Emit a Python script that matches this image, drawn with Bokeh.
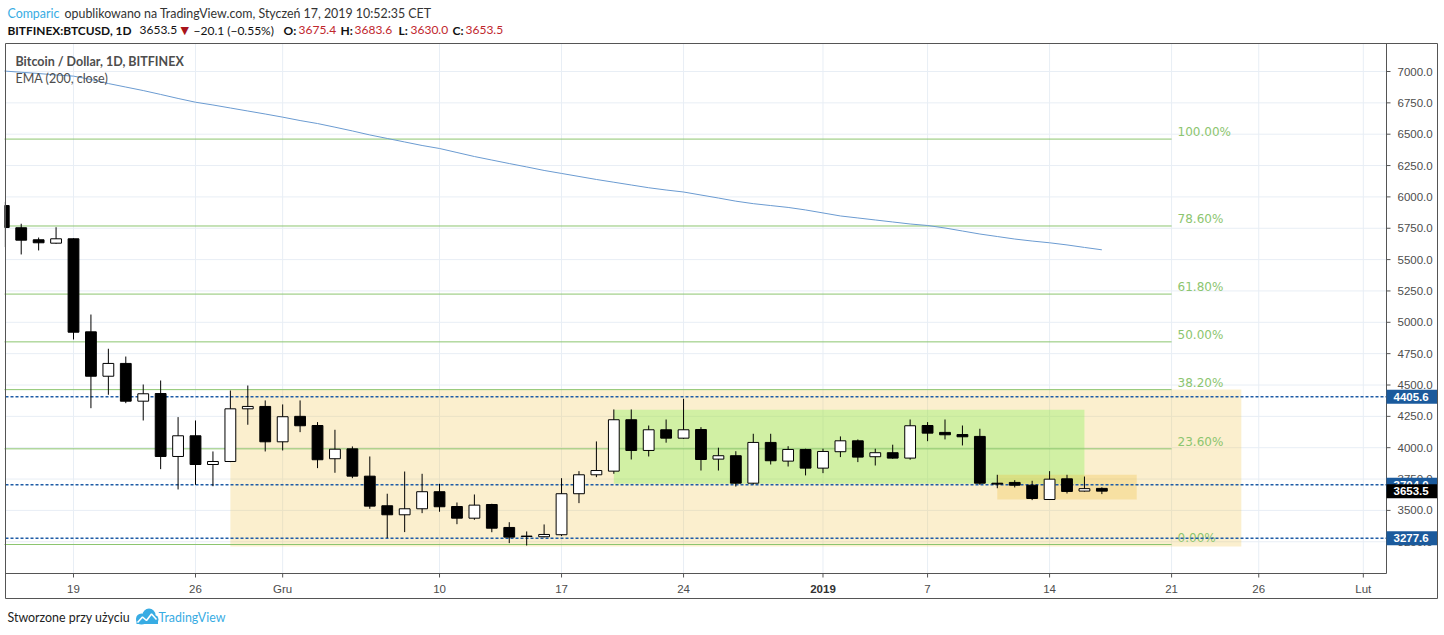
import numpy as np
import pandas as pd
from bokeh.plotting import figure
from bokeh.models import ColumnDataSource, Range1d, Label
from bokeh.core.properties import value
from bokeh.embed import file_html
from bokeh.resources import INLINE

# ---------------- data ----------------
dates = ["2018-11-15", "2018-11-16", "2018-11-17", "2018-11-18", "2018-11-19", "2018-11-20",
         "2018-11-21", "2018-11-22", "2018-11-23", "2018-11-24", "2018-11-25", "2018-11-26",
         "2018-11-27", "2018-11-28", "2018-11-29", "2018-11-30", "2018-12-01", "2018-12-02",
         "2018-12-03", "2018-12-04", "2018-12-05", "2018-12-06", "2018-12-07", "2018-12-08",
         "2018-12-09", "2018-12-10", "2018-12-11", "2018-12-12", "2018-12-13", "2018-12-14",
         "2018-12-15", "2018-12-16", "2018-12-17", "2018-12-18", "2018-12-19", "2018-12-20",
         "2018-12-21", "2018-12-22", "2018-12-23", "2018-12-24", "2018-12-25", "2018-12-26",
         "2018-12-27", "2018-12-28", "2018-12-29", "2018-12-30", "2018-12-31", "2019-01-01",
         "2019-01-02", "2019-01-03", "2019-01-04", "2019-01-05", "2019-01-06", "2019-01-07",
         "2019-01-08", "2019-01-09", "2019-01-10", "2019-01-11", "2019-01-12", "2019-01-13",
         "2019-01-14", "2019-01-15", "2019-01-16", "2019-01-17"]

opens = [5931, 5754, 5658, 5631, 5666, 4924, 4570, 4672, 4371, 4432, 3930, 4095,
         3866, 3890, 4310, 4329, 4047, 4250, 4177, 3912, 3991, 3773, 3537, 3465,
         3513, 3649, 3531, 3438, 3547, 3364, 3295, 3290, 3306, 3633, 3784, 3813,
         4223, 3978, 4143, 4076, 4145, 3909, 3936, 3717, 4042, 3893, 3986, 3837,
         3968, 4055, 3928, 3960, 3917, 4177, 4122, 4105, 4090, 3717, 3723, 3701,
         3587, 3752, 3654, 3675.4]
highs = [5960, 5786, 5676, 5758, 5670, 5062, 4789, 4727, 4504, 4536, 4244, 4217,
         3970, 4456, 4496, 4377, 4345, 4377, 4204, 4143, 4010, 3930, 3633, 3810,
         3792, 3712, 3563, 3627, 3553, 3406, 3332, 3388, 3757, 3813, 4050, 4305,
         4305, 4177, 4225, 4390, 4164, 4000, 3972, 4111, 4111, 4012, 3992, 3992,
         4090, 4066, 3992, 4024, 4225, 4204, 4225, 4177, 4151, 3784, 3741, 3736,
         3813, 3784, 3770, 3683.6]
lows = [5600, 5541, 5573, 5625, 4863, 4315, 4422, 4355, 4217, 3829, 3667, 3704,
        3693, 3885, 4183, 3970, 3978, 4124, 3837, 3800, 3757, 3513, 3280, 3327,
        3478, 3489, 3390, 3425, 3326, 3239, 3220, 3285, 3295, 3558, 3765, 3792,
        3906, 3930, 4040, 4070, 3818, 3818, 3690, 3707, 3866, 3850, 3779, 3797,
        3925, 3885, 3858, 3912, 3904, 4052, 4066, 4018, 3704, 3677, 3683, 3582,
        3587, 3635, 3650, 3630.0]
closes = [5756, 5655, 5634, 5666, 4921, 4570, 4672, 4371, 4430, 3930, 4095, 3866,
          3890, 4310, 4329, 4047, 4247, 4175, 3904, 3988, 3773, 3534, 3465, 3513,
          3649, 3529, 3438, 3542, 3358, 3287, 3292, 3308, 3633, 3784, 3818, 4223,
          3978, 4143, 4076, 4143, 3906, 3936, 3717, 4042, 3896, 3986, 3837, 3970,
          4055, 3925, 3960, 3917, 4175, 4116, 4103, 4087, 3717, 3710, 3701, 3595,
          3749, 3651, 3673.6, 3653.5]
ema200 = [7004, 6994, 6984, 6972, 6963, 6936, 6904, 6876, 6848, 6817, 6785, 6755,
          6733, 6709, 6685, 6661, 6636, 6609, 6585, 6556, 6526, 6494, 6466, 6438,
          6410, 6386, 6354, 6322, 6294, 6266, 6239, 6211, 6187, 6163, 6139, 6117,
          6095, 6073, 6055, 6039, 6015, 5991, 5966, 5946, 5931, 5916, 5896, 5872,
          5848, 5832, 5816, 5800, 5784, 5772, 5752, 5728, 5704, 5684, 5664, 5648,
          5634, 5617, 5597, 5578]

# Fibonacci retracement levels
fib_labels = ["100.00%", "78.60%", "61.80%", "50.00%", "38.20%", "23.60%", "0.00%"]
fib_prices = [6461, 5768, 5225, 4844, 4463, 3991, 3228]
fib_start = "2018-11-15"
fib_end = "2019-01-21"

# shaded zones
zone_left = ["2018-11-28", "2018-12-20", "2019-01-11"]
zone_right = ["2019-01-25", "2019-01-16", "2019-01-19"]
zone_top = [4464, 4302, 3784]
zone_bottom = [3212, 3712, 3587]
zone_color = ["#f0be3c", "#72f243", "#f0be3c"]
zone_alpha = [0.25, 0.30, 0.30]

# horizontal levels
hlines = [4405.6, 3704.0, 3277.6]
last_price = 3653.5

# axes
price_ticks = [3250, 3500, 3750, 4000, 4250, 4500, 4750, 5000, 5250, 5500, 5750,
               6000, 6250, 6500, 6750, 7000]
time_tick_dates = ["2018-11-19", "2018-11-26", "2018-12-01", "2018-12-10", "2018-12-17",
                   "2018-12-24", "2019-01-01", "2019-01-07", "2019-01-14", "2019-01-21",
                   "2019-01-26", "2019-02-01"]
time_tick_labels = ["19", "26", "Gru", "10", "17", "24", "2019", "7", "14", "21", "26", "Lut"]
time_tick_bold = [False, False, False, False, False, False, True, False, False, False, False, False]

# ---------------- helpers ----------------
base = pd.Timestamp("2018-11-19")
def day(s):
    return (pd.Timestamp(s) - base).days

PX_DAY = 17.43          # pixels per day in the reference
PX_250 = 31.35          # pixels per 250 USD in the reference
def dx(px):             # reference pixel x -> day number
    return (px - 73) / PX_DAY
def dy(py):             # reference pixel y -> price
    return 7000 - (py - 71) * 250 / PX_250

W, H = 1440, 632
PL, PR, PT, PB = 5, 1386, 43, 573   # price pane in reference pixels
OR, OB = 1437, 598                  # outer frame right / bottom

days = np.array([day(d) for d in dates], dtype=float)
o = np.array(opens, dtype=float)
c = np.array(closes, dtype=float)

# ---------------- figure ----------------
p = figure(width=W, height=H, x_range=Range1d(dx(4), dx(W)), y_range=Range1d(dy(H), dy(0)),
           x_axis_type=None, y_axis_type=None, output_backend="svg", toolbar_location=None,
           min_border_left=4, min_border_right=0, min_border_top=0, min_border_bottom=0)
p.outline_line_color = None
p.background_fill_color = "white"
p.border_fill_color = "white"

grid_col = "#e8eef5"
axis_col = "#555555"
tdays = [day(d) for d in time_tick_dates]

# grid
p.segment(x0=tdays, y0=[dy(PT)] * len(tdays), x1=tdays, y1=[dy(PB)] * len(tdays),
          line_color=grid_col, line_width=1)
p.segment(x0=[dx(PL)] * len(price_ticks), y0=price_ticks, x1=[dx(PR)] * len(price_ticks),
          y1=price_ticks, line_color=grid_col, line_width=1)

# zones
zsrc = ColumnDataSource(dict(left=[day(d) for d in zone_left], right=[day(d) for d in zone_right],
                             top=zone_top, bottom=zone_bottom, color=zone_color, alpha=zone_alpha))
p.quad(left="left", right="right", top="top", bottom="bottom", fill_color="color",
       fill_alpha="alpha", line_color=None, source=zsrc)

# fib lines and labels
nf = len(fib_prices)
fsrc = ColumnDataSource(dict(x0=[day(fib_start)] * nf, x1=[day(fib_end)] * nf,
                             y=fib_prices, label=fib_labels))
p.segment(x0="x0", y0="y", x1="x1", y1="y", line_color="#8cc56f", line_width=1, source=fsrc)
p.text(x="x1", y="y", text="label", source=fsrc, x_offset=6, text_baseline="bottom",
       text_align="left", text_font=value("DejaVu Sans"), text_font_size="12px",
       text_color="#8cc56f")

# EMA
p.line(days, ema200, line_color="#6b9bd1", line_width=1)

# dashed level lines
nh = len(hlines)
p.segment(x0=[dx(PL)] * nh, y0=hlines, x1=[dx(PR)] * nh, y1=hlines, line_color="#1f5ca6",
          line_dash="3 2", line_width=1.5)

# candles
up = c >= o
csrc = ColumnDataSource(dict(x=days, high=highs, low=lows, top=np.maximum(o, c),
                             bottom=np.minimum(o, c), fill=np.where(up, "white", "black")))
p.segment(x0="x", y0="low", x1="x", y1="high", line_color="black", line_width=1, source=csrc)
p.vbar(x="x", width=0.62, top="top", bottom="bottom", fill_color="fill", line_color="black",
       line_width=1, source=csrc)

# axes (price axis on the right, time axis below)
p.segment(x0=[dx(PR)], y0=[dy(PT)], x1=[dx(PR)], y1=[dy(PB)], line_color=axis_col, line_width=1)
p.segment(x0=[dx(PL)], y0=[dy(PB)], x1=[dx(PR)], y1=[dy(PB)], line_color=axis_col, line_width=1)
np_ = len(price_ticks)
p.segment(x0=[dx(PR)] * np_, y0=price_ticks, x1=[dx(PR + 4)] * np_, y1=price_ticks,
          line_color=axis_col, line_width=1)
p.text(x=[dx(PR + 11)] * np_, y=price_ticks, text=[f"{v:.1f}" for v in price_ticks],
       text_align="left", text_baseline="middle", text_font=value("Liberation Sans"),
       text_font_size="11.5px", text_color="#4d4d4d")
nt = len(tdays)
p.segment(x0=tdays, y0=[dy(PB)] * nt, x1=tdays, y1=[dy(PB + 4)] * nt, line_color=axis_col,
          line_width=1)
tsrc = ColumnDataSource(dict(x=tdays, y=[dy(588)] * nt, t=time_tick_labels,
                             st=["bold" if b else "normal" for b in time_tick_bold],
                             col=["#333333" if b else "#4d4d4d" for b in time_tick_bold]))
p.text(x="x", y="y", text="t", source=tsrc, text_align="center", text_baseline="middle",
       text_font=value("Liberation Sans"), text_font_size="11.5px", text_font_style="st",
       text_color="col")

# price axis tags (box + text, drawn one after another so later tags cover earlier ones)
tag_vals = hlines + [last_price]
tag_cols = ["#1b5a9c"] * nh + ["#000000"]
for v, col in zip(tag_vals, tag_cols):
    p.rect(x=[dx((PR + OR) / 2)], y=[v], width=OR - PR, height=14, width_units="screen",
           height_units="screen", fill_color=col, line_color=None)
    p.text(x=[dx(1393)], y=[v], text=[f"{v:.1f}"], text_align="left", text_baseline="middle",
           text_font=value("Liberation Sans"), text_font_size="11.5px", text_font_style="bold",
           text_color="white")

# outer frame
p.quad(left=[dx(PL)], right=[dx(OR)], top=[dy(PT)], bottom=[dy(OB)], fill_color=None,
       line_color=axis_col, line_width=1)

# TradingView logo (small cloud)
logo = "#38ace3"
p.circle(x=[dx(141), dx(148.5), dx(153.5)], y=[dy(618.5), dy(614.5), dy(619)], radius=[5.5, 6.5, 4.5],
         radius_units="screen", fill_color=logo, line_color=None)
p.quad(left=[dx(136)], right=[dx(157.5)], top=[dy(618)], bottom=[dy(623.5)], fill_color=logo,
       line_color=None)
p.line(x=[dx(137), dx(142), dx(146), dx(151), dx(156)], y=[dy(622), dy(616.5), dy(620), dy(613.5), dy(619)],
       line_color="white", line_width=1.6)

# texts
def txt(px, py, s, color="#333333", style="normal", size="12.4px", font="Lato"):
    p.add_layout(Label(x=dx(px), y=dy(py), text=s, text_align="left", text_baseline="middle",
                       text_font=font, text_font_size=size, text_font_style=style, text_color=color))

txt(7, 12.5, "Comparic", color="#38ace3")
txt(64, 12.5, "opublikowano na TradingView.com, Styczeń 17, 2019 10:52:35 CET")
red = "#c0262c"
chg = closes[-1] - closes[-2]
pct = chg / closes[-2] * 100
L2 = "12px"
txt(7, 29.5, "BITFINEX:BTCUSD, 1D", color="#111111", style="bold", size="11.9px")
txt(139, 29.5, f"{closes[-1]:.1f}", color="#111111", size=L2)
txt(180, 29.5, "\u25bc", color="#a8141a", size="11px", font="DejaVu Sans")
txt(193, 29.5, f"\u2212{abs(chg):.1f} (\u2212{abs(pct):.2f}%)", color="#111111", size=L2)
txt(283, 29.5, "O:", color="#111111", style="bold", size=L2)
txt(298, 29.5, f"{opens[-1]:.1f}", color=red, size=L2)
txt(340, 29.5, "H:", color="#111111", style="bold", size=L2)
txt(354, 29.5, f"{highs[-1]:.1f}", color=red, size=L2)
txt(398, 29.5, "L:", color="#111111", style="bold", size=L2)
txt(410, 29.5, f"{lows[-1]:.1f}", color=red, size=L2)
txt(452, 29.5, "C:", color="#111111", style="bold", size=L2)
txt(465, 29.5, f"{closes[-1]:.1f}", color=red, size=L2)

txt(15, 61, "Bitcoin / Dollar, 1D, BITFINEX", color="#4d4d4d", style="bold", size="12.5px")
txt(15, 77.5, "EMA (200, close)", color="#4d4d4d", size="12.5px")

txt(7, 617, "Stworzone przy użyciu", color="#222222")
txt(158, 617, "TradingView", color="#38ace3")

open("out.html", "w").write(file_html(p, INLINE))
